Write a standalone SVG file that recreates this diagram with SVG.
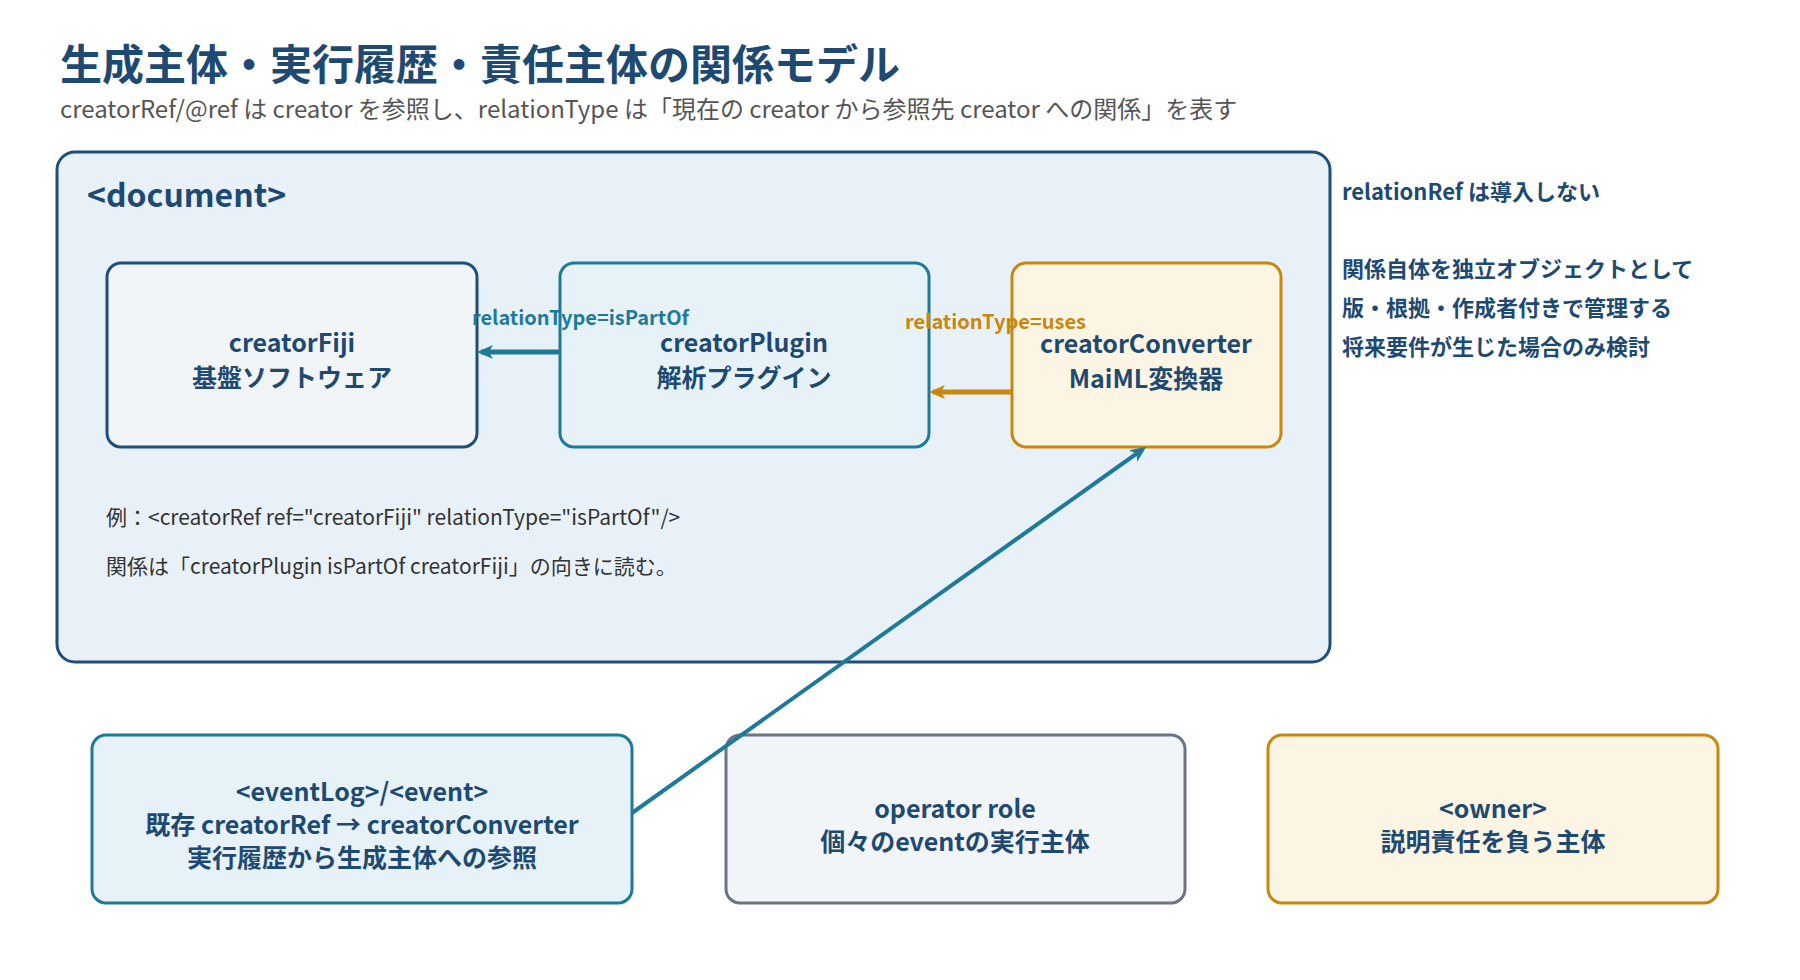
<svg xmlns="http://www.w3.org/2000/svg" width="1800" height="980" viewBox="0 0 1800 980">
<defs>
<style>
text{font-family:"Noto Sans CJK JP","Noto Sans",sans-serif}
.t{fill:#1e4a72;font-weight:700;font-size:25px;text-anchor:middle}
.r{fill:#1e4a72;font-weight:700;font-size:22px}
.e{fill:#333;font-size:21px}
</style>
<marker id="at" markerWidth="16" markerHeight="16" refX="12" refY="8" orient="auto" markerUnits="userSpaceOnUse" viewBox="0 0 16 16"><path d="M0,1L16,8L0,15L4,8z" fill="#1f7a99"/></marker>
<marker id="ao" markerWidth="16" markerHeight="16" refX="12" refY="8" orient="auto" markerUnits="userSpaceOnUse" viewBox="0 0 16 16"><path d="M0,1L16,8L0,15L4,8z" fill="#c8870f"/></marker>
</defs>
<rect width="1800" height="980" fill="#fff"/>
<text x="60" y="80" font-size="42" font-weight="700" fill="#1e4a72">生成主体・実行履歴・責任主体の関係モデル</text>
<text x="60" y="118" font-size="24" fill="#555">creatorRef/@ref は creator を参照し、relationType は「現在の creator から参照先 creator への関係」を表す</text>
<g id="document">
<rect x="57" y="152" width="1273" height="510" rx="18" fill="#e9f1f8" stroke="#1f4e79" stroke-width="3"/>
<text x="87" y="207" font-size="32" font-weight="700" fill="#1e4a72">&lt;document&gt;</text>
<text class="e" x="106" y="525">例：&lt;creatorRef ref="creatorFiji" relationType="isPartOf"/&gt;</text>
<text class="e" x="106" y="574">関係は「creatorPlugin isPartOf creatorFiji」の向きに読む。</text>
</g>
<g id="creatorFiji">
<rect x="107" y="263" width="370" height="184" rx="14" fill="#f2f5f8" stroke="#1f4e79" stroke-width="3"/>
<text class="t" x="292" y="352">creatorFiji</text><text class="t" x="292" y="387">基盤ソフトウェア</text>
</g>
<g id="creatorPlugin">
<rect x="560" y="263" width="369" height="184" rx="14" fill="#e6f2f7" stroke="#1f7a99" stroke-width="3"/>
<text class="t" x="744" y="352">creatorPlugin</text><text class="t" x="744" y="387">解析プラグイン</text>
</g>
<g id="creatorConverter">
<rect x="1012" y="263" width="269" height="184" rx="14" fill="#fdf5e4" stroke="#c8870f" stroke-width="3"/>
<text class="t" x="1146" y="353">creatorConverter</text><text class="t" x="1146" y="388">MaiML変換器</text>
</g>
<g id="eventLog">
<rect x="92" y="735" width="540" height="168" rx="14" fill="#e6f2f7" stroke="#1f7a99" stroke-width="3"/>
<text class="t" x="362" y="801" font-size="23">&lt;eventLog&gt;/&lt;event&gt;</text>
<text class="t" x="362" y="834" font-size="23">既存 creatorRef → creatorConverter</text>
<text class="t" x="362" y="867" font-size="23">実行履歴から生成主体への参照</text>
</g>
<g id="operator">
<rect x="726" y="735" width="459" height="168" rx="14" fill="#f2f5f8" stroke="#6b7385" stroke-width="3"/>
<text class="t" x="955" y="818" font-size="23">operator role</text>
<text class="t" x="955" y="851" font-size="23">個々のeventの実行主体</text>
</g>
<g id="owner">
<rect x="1268" y="735" width="450" height="168" rx="14" fill="#fdf5e4" stroke="#c8870f" stroke-width="3"/>
<text class="t" x="1493" y="818" font-size="23">&lt;owner&gt;</text>
<text class="t" x="1493" y="851" font-size="23">説明責任を負う主体</text>
</g>
<g id="notes">
<text class="r" x="1342" y="200">relationRef は導入しない</text>
<text class="r" x="1342" y="277">関係自体を独立オブジェクトとして</text>
<text class="r" x="1342" y="316">版・根拠・作成者付きで管理する</text>
<text class="r" x="1342" y="355">将来要件が生じた場合のみ検討</text>
</g>
<g id="connectors">
<line x1="560" y1="352" x2="481" y2="352" stroke="#1f7a99" stroke-width="5" marker-end="url(#at)"/>
<text x="472" y="325" font-size="20" font-weight="700" fill="#1f7a99">relationType=isPartOf</text>
<line x1="1012" y1="392" x2="933" y2="392" stroke="#c8870f" stroke-width="5" marker-end="url(#ao)"/>
<text x="905" y="329" font-size="20" font-weight="700" fill="#c8870f">relationType=uses</text>
<line x1="632" y1="813" x2="1143" y2="449" stroke="#1f7a99" stroke-width="4" marker-end="url(#at)"/>
</g>
</svg>
